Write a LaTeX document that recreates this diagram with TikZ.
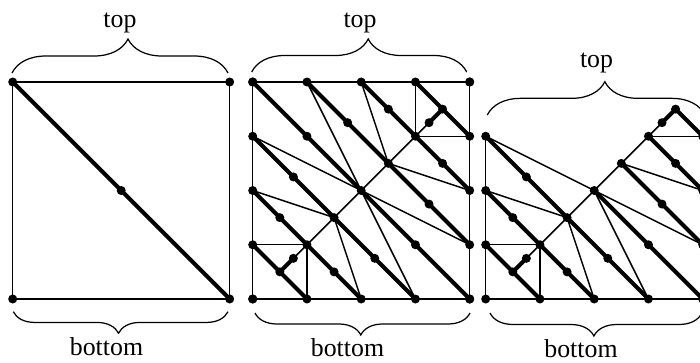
\documentclass[tikz,border=0pt]{standalone}
\usepackage{fontspec}
\setmainfont{Liberation Serif}
\usetikzlibrary{calc,decorations.pathreplacing}
\tikzset{
  edge/.style={draw=black, line width=0.85pt, line cap=round, line join=round},
  cut/.style={draw=black, line width=2.3pt, line cap=round, line join=round},
  dot/.style={circle, fill=black, inner sep=0pt, minimum size=0.18cm},
  brc/.style={draw=black, line width=0.7pt, decorate},
  lab/.style={font=\fontsize{14.7}{16}\selectfont, anchor=base, inner sep=0pt},
}
\begin{document}
\begin{tikzpicture}
  \useasboundingbox (0,0) rectangle (14,7.24);
  \def\u{1.085}

  % square with a single cut
  \begin{scope}[shift={(0.254,1.26)}, scale=\u]
    \draw[edge] (0,0) rectangle (4,4);
    \draw[cut] (0,4)--(4,0);
    \foreach \p in {(0,0),(4,0),(0,4),(4,4),(2,2)} \node[dot] at \p {};
  \end{scope}

  % refined square
  \begin{scope}[shift={(5.054,1.26)}, scale=\u]
    \draw[edge] (0,0) rectangle (4,4);
    \draw[edge] (0.75,0.75)--(3.25,3.25);
    \draw[edge] (0,1)--(1,1)--(1,0);
    \draw[edge] (3,4)--(3,3)--(4,3);
    \draw[edge] (0,2)--(1.5,1.5)--(2,0);
    \draw[edge] (2,4)--(2.5,2.5)--(4,2);
    \draw[edge] (0,3)--(4,1);
    \draw[edge] (1,4)--(3,0);
    \draw[cut] (0,1)--(1,0);
    \draw[cut] (0.5,0.5)--(0.75,0.75);
    \foreach \s/\e in {{0,2}/{2,0},{0,3}/{3,0},{0,4}/{4,0},{1,4}/{4,1},{2,4}/{4,2}} {
      \draw[cut] (\s)--(\e);
      \foreach \t in {0.25,0.5,0.75} \node[dot] at ($(\s)!\t!(\e)$) {};
    }
    \draw[cut] (3.25,3.25)--(3.5,3.5)--(4,3);
    \draw[cut] (3,4)--(3.5,3.5);
    \foreach \i in {0,...,4} {
      \node[dot] at (\i,0) {}; \node[dot] at (\i,4) {};
      \node[dot] at (0,\i) {}; \node[dot] at (4,\i) {};
    }
    \foreach \p in {(0.5,0.5),(0.75,0.75),(3.25,3.25),(3.5,3.5)} \node[dot] at \p {};
  \end{scope}

  % lower half of the refined square
  \begin{scope}[shift={(9.714,1.26)}, scale=\u]
    \draw[edge] (4,3)--(4,0)--(0,0)--(0,3);
    \draw[edge] (0.75,0.75)--(3.25,3.25);
    \draw[edge] (0,1)--(1,1)--(1,0);
    \draw[edge] (3,3)--(4,3);
    \draw[edge] (0,2)--(1.5,1.5)--(2,0);
    \draw[edge] (2.5,2.5)--(4,2);
    \draw[edge] (0,3)--(4,1);
    \draw[edge] (2,2)--(3,0);
    \draw[cut] (0,1)--(1,0);
    \draw[cut] (0.5,0.5)--(0.75,0.75);
    \foreach \s/\e in {{0,2}/{2,0},{0,3}/{3,0}} {
      \draw[cut] (\s)--(\e);
      \foreach \t in {0.25,0.5,0.75} \node[dot] at ($(\s)!\t!(\e)$) {};
    }
    \draw[cut] (2,2)--(4,0);
    \draw[cut] (2.5,2.5)--(4,1);
    \draw[cut] (3,3)--(4,2);
    \draw[cut] (3.25,3.25)--(3.5,3.5)--(4,3);
    \foreach \i in {0,...,4} \node[dot] at (\i,0) {};
    \foreach \i in {1,2,3} { \node[dot] at (0,\i) {}; \node[dot] at (4,\i) {}; }
    \foreach \p in {(0.5,0.5),(0.75,0.75),(2,2),(3,1),(2.5,2.5),(3.25,1.75),
                    (3,3),(3.5,2.5),(3.25,3.25),(3.5,3.5)} \node[dot] at \p {};
  \end{scope}

  % braces
  \draw[brc, decoration={brace, amplitude=0.68cm, aspect=0.537}] (0.24,5.78)--(4.56,5.78);
  \draw[brc, decoration={brace, amplitude=0.66cm, aspect=0.542}] (5.034,5.8)--(9.334,5.8);
  \draw[brc, decoration={brace, amplitude=0.666cm, aspect=0.54}] (9.746,4.94)--(14.1,4.94);
  \draw[brc, decoration={brace, amplitude=0.43cm, aspect=0.51}] (4.56,1.006)--(0.266,1.006);
  \draw[brc, decoration={brace, amplitude=0.44cm, aspect=0.508}] (9.4,0.98)--(5.1,0.98);
  \draw[brc, decoration={brace, amplitude=0.46cm, aspect=0.51}] (14.04,0.98)--(9.8,0.98);

  \node[lab] (top1) at (2.4,6.69) {top};
  \node[lab] (top2) at (7.2,6.69) {top};
  \node[lab] (top3) at (11.93,5.89) {top};
  \node[lab] (bot1) at (2.13,0.13) {bottom};
  \node[lab] (bot2) at (6.95,0.11) {bottom};
  \node[lab] (bot3) at (11.62,0.086) {bottom};
\end{tikzpicture}
\end{document}
